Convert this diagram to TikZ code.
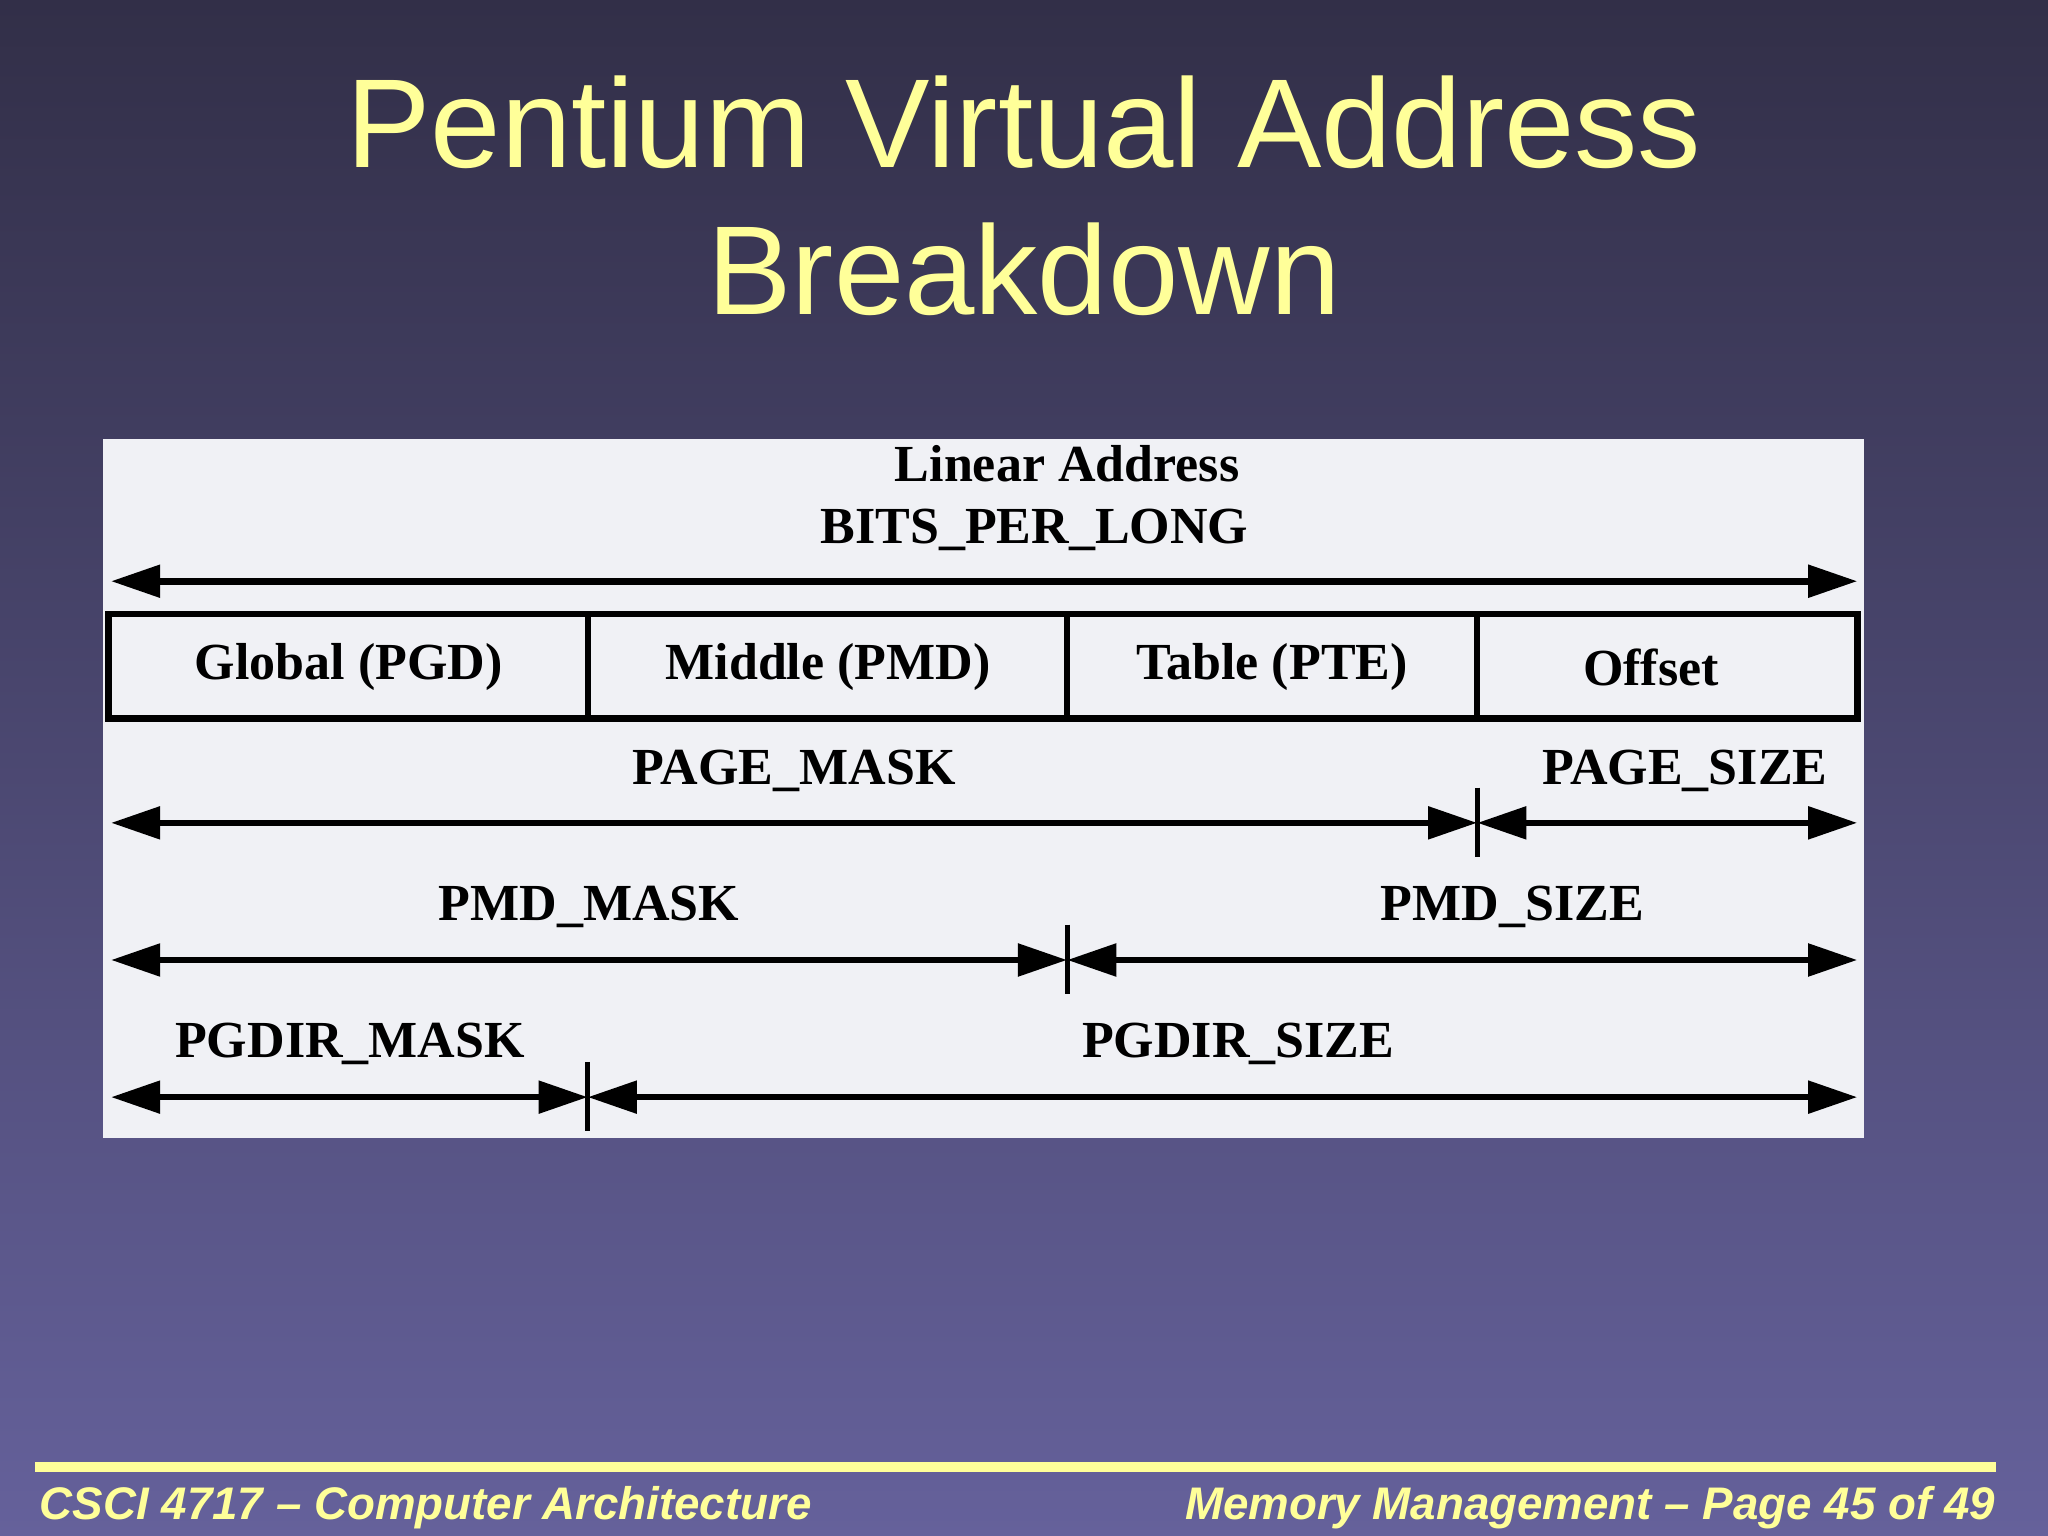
\documentclass[tikz,border=0pt]{standalone}
\usepackage{fontspec}
\setmainfont{Liberation Serif}
\newfontfamily\sansf{Liberation Sans}
\usetikzlibrary{arrows.meta}
\definecolor{ttl}{HTML}{FFFF99}
\definecolor{bgtop}{HTML}{322F48}
\definecolor{bgbot}{HTML}{65619B}
\definecolor{panel}{HTML}{F0F1F5}
\begin{document}
\begin{tikzpicture}[x=0.013061cm,y=-0.013061cm,
  dimline/.style={line width=1.9pt,{Triangle[length=14pt,width=9pt]}-{Triangle[length=14pt,width=9pt]}},
  lbl/.style={font=\fontsize{14.8}{18}\selectfont\bfseries},
  tick/.style={line width=1.4pt}]
\useasboundingbox (0,0) rectangle (1568,1176);
\shade[top color=bgtop,bottom color=bgbot] (0,0) rectangle (1568,1176);
\node[text=ttl,font=\sansf\fontsize{36}{42}\selectfont,align=center] (title) at (784,150) {Pentium Virtual Address\\Breakdown};
\draw[ttl,line width=3pt] (27,1123) -- (1528,1123);
\node[text=ttl,font=\sansf\fontsize{13}{14}\selectfont\bfseries\itshape,anchor=west,inner sep=0pt] (fl) at (30,1154) {CSCI 4717 – Computer Architecture};
\node[text=ttl,font=\sansf\fontsize{13}{14}\selectfont\bfseries\itshape,anchor=east,inner sep=0pt] (fr) at (1528,1154) {Memory Management – Page 45 of 49};
\fill[panel] (79,336) rectangle (1427,871);
\node[lbl] (la) at (817,355) {Linear Address};
\node[lbl] (bpl) at (792,406) {BITS\_PER\_LONG};
\coordinate (aL) at (85,445); \coordinate (aR) at (1422,445);
\draw[dimline] (aL) -- (aR);
\draw[line width=1.9pt] (83,470) rectangle (1422,550);
\draw[line width=1.6pt] (450,470) -- (450,550) (817,470) -- (817,550) (1131,470) -- (1131,550);
\node[lbl] (g) at (267,511) {Global (PGD)};
\node[lbl] (m) at (634,511) {Middle (PMD)};
\node[lbl] (t) at (974,511) {Table (PTE)};
\node[lbl] (o) at (1264,511) {Offset};
\coordinate (b1) at (85,630); \coordinate (b2) at (1131,630); \coordinate (b3) at (1422,630);
\draw[dimline] (b1) -- (b2); \draw[dimline] (b2) -- (b3);
\draw[tick] (1131,603) -- (1131,656);
\node[lbl] (pm) at (608,590) {PAGE\_MASK};
\node[lbl] (ps) at (1290,590) {PAGE\_SIZE};
\coordinate (c1) at (85,735); \coordinate (c2) at (817,735); \coordinate (c3) at (1422,735);
\draw[dimline] (c1) -- (c2); \draw[dimline] (c2) -- (c3);
\draw[tick] (817,708) -- (817,761);
\node[lbl] (mm) at (451,694) {PMD\_MASK};
\node[lbl] (msz) at (1158,694) {PMD\_SIZE};
\coordinate (d1) at (85,840); \coordinate (d2) at (450,840); \coordinate (d3) at (1422,840);
\draw[dimline] (d1) -- (d2); \draw[dimline] (d2) -- (d3);
\draw[tick] (450,813) -- (450,866);
\node[lbl] (gm) at (268,799) {PGDIR\_MASK};
\node[lbl] (gs) at (948,799) {PGDIR\_SIZE};
\end{tikzpicture}
\end{document}
